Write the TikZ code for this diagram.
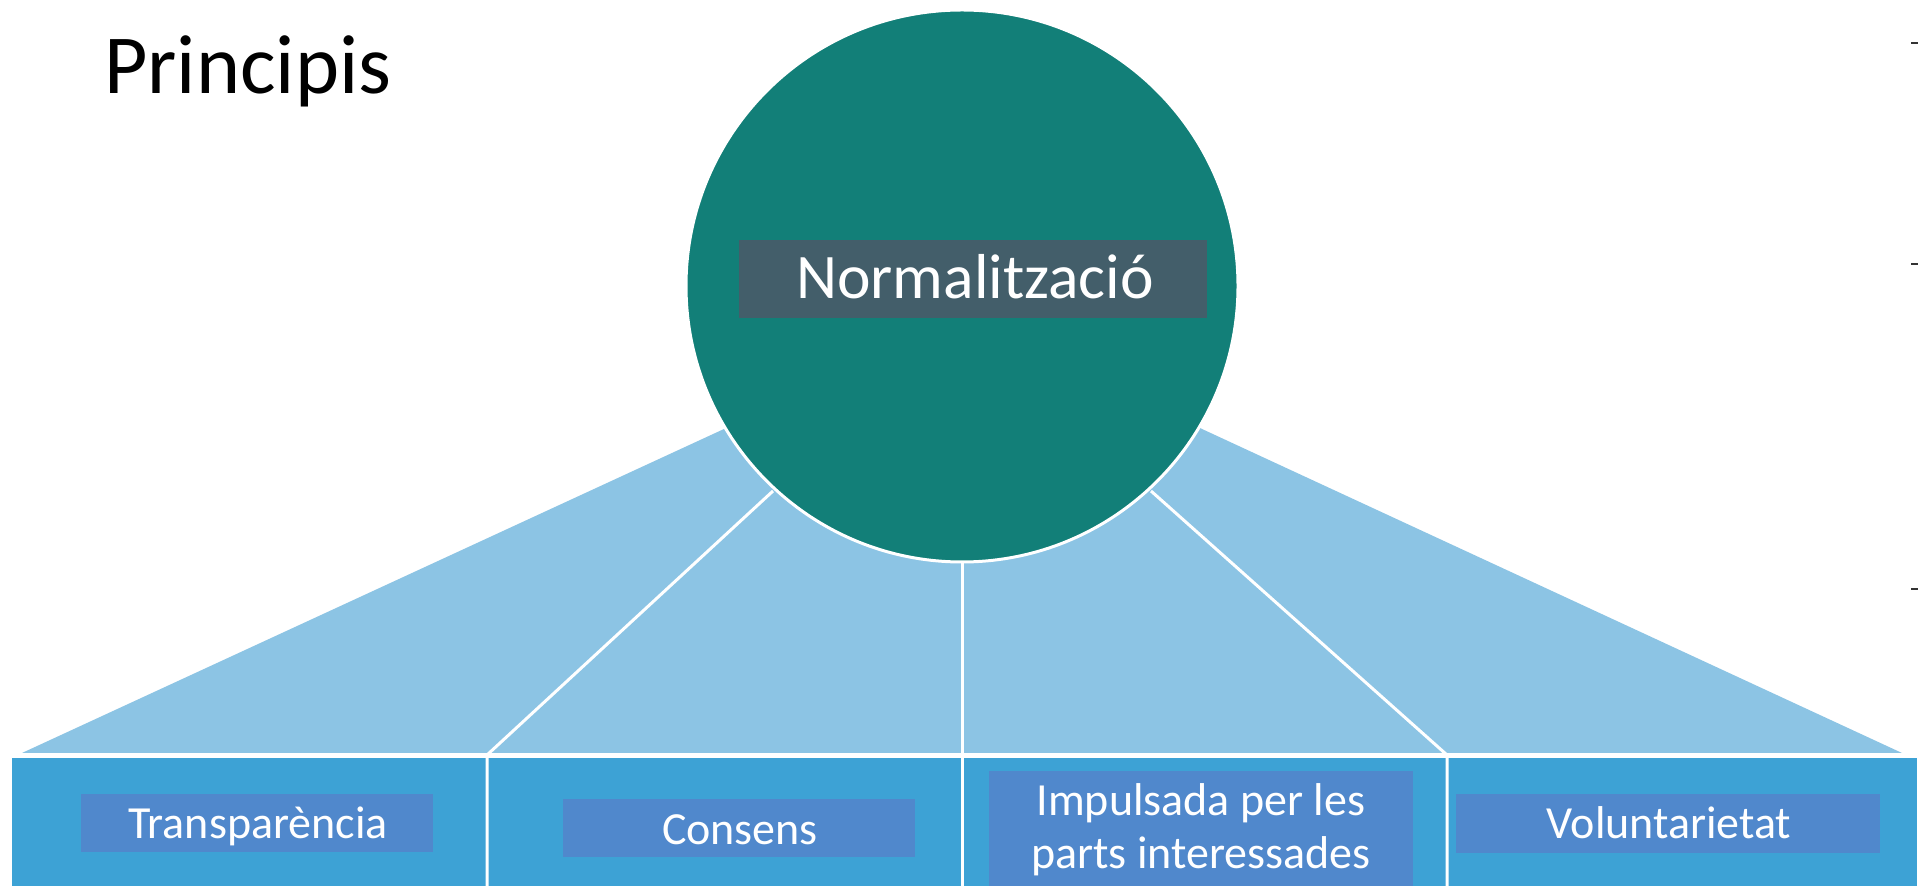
\documentclass[tikz,border=0pt]{standalone}
\usepackage{fontspec}
\setmainfont{Carlito}
\definecolor{circteal}{HTML}{127F78}
\definecolor{normbox}{HTML}{435E6A}
\definecolor{fanblue}{HTML}{8CC4E4}
\definecolor{bandblue}{HTML}{3DA2D5}
\definecolor{labblue}{HTML}{5088CC}
\tikzset{
  divider/.style={draw=white, line width=3pt},
  labbox/.style={rectangle, fill=labblue, inner sep=0pt},
  labtext/.style={text=white, inner sep=0pt, font=\fontsize{46}{53}\selectfont, align=center},
}
\begin{document}
\begin{tikzpicture}[x=1pt,y=1pt]
\useasboundingbox (0,0) rectangle (1924,886);
\fill[white] (0,0) rectangle (1924,886);
% fan
\coordinate (fanL) at (22,133);
\coordinate (fanR) at (1902,133);
\coordinate (cL) at (724,457);
\coordinate (cR) at (1202,457);
\coordinate (cC) at (962,600);
\fill[fanblue] (fanL) -- (cL) -- (cC) -- (cR) -- (fanR) -- cycle;
% band
\fill[bandblue] (12,0) rectangle (1917,128);
% dividers
\coordinate (d1a) at (773,395);
\coordinate (d1b) at (487,131);
\coordinate (d1c) at (487,0);
\coordinate (d2a) at (962,330);
\coordinate (d2c) at (962,0);
\coordinate (d3a) at (1151,395);
\coordinate (d3b) at (1447,131);
\coordinate (d3c) at (1447,0);
\draw[divider] (d1a) -- (d1b) -- (d1c);
\draw[divider] (d2a) -- (d2c);
\draw[divider] (d3a) -- (d3b) -- (d3c);
\draw[white, line width=3pt] (12,129.5) -- (1917,129.5);
% circle
\node[circle, fill=circteal, draw=white, line width=3pt, minimum size=552pt, inner sep=0pt] (norm) at (cC) {};
\node[rectangle, fill=normbox, minimum width=468pt, minimum height=78pt, inner sep=0pt] (normb) at (973,607) {};
\node[anchor=base, text=white, inner sep=0pt, font=\fontsize{63.5}{74}\selectfont] (normt) at (975,587) {Normalització};
% title
\node[anchor=base west, inner sep=0pt, font=\fontsize{84}{100}\selectfont] (title) at (104,792) {Principis};
% label boxes
\node[labbox, minimum width=352pt, minimum height=58pt] (tb) at (257,63) {};
\node[labbox, minimum width=352pt, minimum height=58pt] (cb) at (739,58) {};
\node[labbox, minimum width=424pt, minimum height=115pt] (ib) at (1201,57.5) {};
\node[labbox, minimum width=424pt, minimum height=59pt] (vb) at (1668,62.5) {};
\node[labtext, anchor=base] (tt) at (258,48) {Transparència};
\node[labtext, anchor=base] (ct) at (740,42) {Consens};
\node[labtext, anchor=base] (it) at (1201,18) {Impulsada per les\\parts interessades};
\node[labtext, anchor=base] (vt) at (1669,48) {Voluntarietat};
% small tick marks at right edge
\draw[black!80, line width=2.5pt] (1911,843) -- (1918,843);
\draw[black!80, line width=2.5pt] (1911,622) -- (1918,622);
\draw[black!80, line width=2.5pt] (1911,297) -- (1918,297);
\end{tikzpicture}
\end{document}
